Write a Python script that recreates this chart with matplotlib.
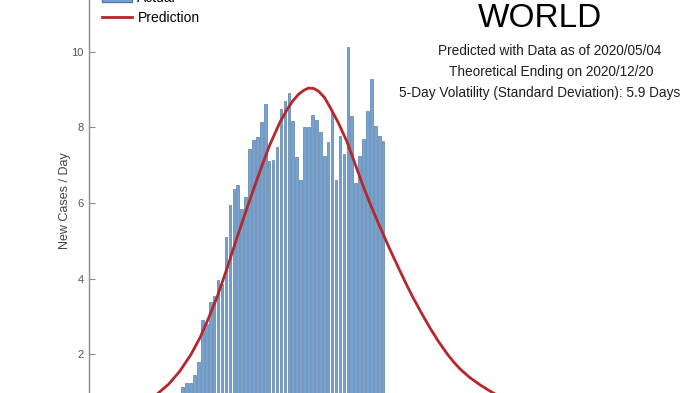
import matplotlib

matplotlib.use('Agg')
import numpy as np
import matplotlib.pyplot as plt
from matplotlib.patches import Patch
from matplotlib.lines import Line2D

plt.rcParams['font.family'] = ['Liberation Sans', 'DejaVu Sans']

# daily new cases (day 0 = first visible bar)
actual_days = np.arange(52)
actual_cases = [1.13, 1.24, 1.24, 1.45, 1.80, 2.90, 2.80, 3.39, 3.55, 3.96,
                3.87, 5.10, 5.95, 6.36, 6.47, 5.83, 6.16, 7.42, 7.68, 7.75,
                8.15, 8.63, 7.12, 7.13, 7.47, 8.48, 8.70, 8.91, 8.17, 7.22,
                6.62, 8.00, 8.00, 8.33, 8.19, 7.89, 7.24, 7.61, 8.40, 6.62,
                7.78, 7.31, 10.13, 8.30, 6.53, 7.25, 7.70, 8.44, 9.28, 8.04,
                7.78, 7.64]

# fitted prediction curve
pred_days = [-6.5, -3.5, -0.7, 2.0, 4.4, 6.5, 8.7, 11.3, 13.8, 16.0, 18.0, 20.2,
             22.2, 24.8, 26.7, 28.0, 29.5, 30.8, 32.0, 33.3, 34.5, 36.0, 37.4,
             39.6, 41.8, 43.8, 45.9, 48.0, 50.1, 52.6, 55.2, 57.0, 58.6, 60.8,
             62.9, 65.0, 67.3, 69.0, 70.6, 73.0, 75.7, 78.0, 80.0]
pred_cases = [0.95, 1.22, 1.56, 1.98, 2.44, 2.94, 3.50, 4.28, 5.08, 5.76, 6.36,
              7.00, 7.55, 8.15, 8.50, 8.70, 8.88, 8.98, 9.04, 9.03, 8.96, 8.80,
              8.55, 8.12, 7.62, 7.05, 6.45, 5.90, 5.39, 4.80, 4.22, 3.83, 3.50,
              3.08, 2.70, 2.35, 2.01, 1.79, 1.61, 1.39, 1.19, 1.04, 0.92]

title_text = 'WORLD'
info_lines = ['Predicted with Data as of 2020/05/04',
              'Theoretical Ending on 2020/12/20',
              '5-Day Volatility (Standard Deviation): 5.9 Days']

W, H = 700, 393
fig = plt.figure(figsize=(W / 100, H / 100), dpi=100)
fig.patch.set_facecolor('white')

# axes are larger than the picture: the chart is a crop of a bigger figure
ax_h = 37 + 393 + 39
ax = fig.add_axes([89 / W, -37 / H, 611 / W, ax_h / H])
ax.bar(actual_days, actual_cases, width=0.66, color='#74a3d3',
       edgecolor='#52789f', linewidth=0.45)
ax.plot(pred_days, pred_cases, color='#b8262b', linewidth=2.0,
        solid_joinstyle='round')

ax.set_xlim(-23.84, 131.6)
ax.set_ylim(0, 12.4)
ax.set_yticks([2, 4, 6, 8, 10])
ax.set_xticks([])
for s in ['top', 'right', 'bottom']:
    ax.spines[s].set_visible(False)
ax.spines['left'].set_color('#8a8a8a')
ax.spines['left'].set_linewidth(1.0)
ax.tick_params(axis='y', direction='in', length=4, width=0.8, color='#8a8a8a',
               labelsize=8, labelcolor='#555555', pad=4)
ax.set_ylabel('New Cases / Day', fontsize=9, color='#444444')
ax.yaxis.set_label_coords(-18 / 611, (430 - 201) / ax_h)

handles = [Patch(facecolor='#74a3d3', edgecolor='#52789f'),
           Line2D([], [], color='#b8262b', linewidth=2.0)]
fig.legend(handles, ['Actual', 'Prediction'], loc='lower left',
           bbox_to_anchor=(102 / W, 1 - 25 / H), frameon=False, fontsize=10,
           handlelength=2.15, handletextpad=0.4, labelspacing=0.4,
           borderpad=0, borderaxespad=0)

fig.text(540 / W, 1 - 18.5 / H, title_text, fontsize=24, ha='center', va='center')
info_x = [550, 551, 540]
for i, line in enumerate(info_lines):
    fig.text(info_x[i] / W, 1 - (51 + 21 * i) / H, line, fontsize=9.8,
             ha='center', va='center', color='#1e1e1e')

plt.savefig('out.png', dpi=100)
